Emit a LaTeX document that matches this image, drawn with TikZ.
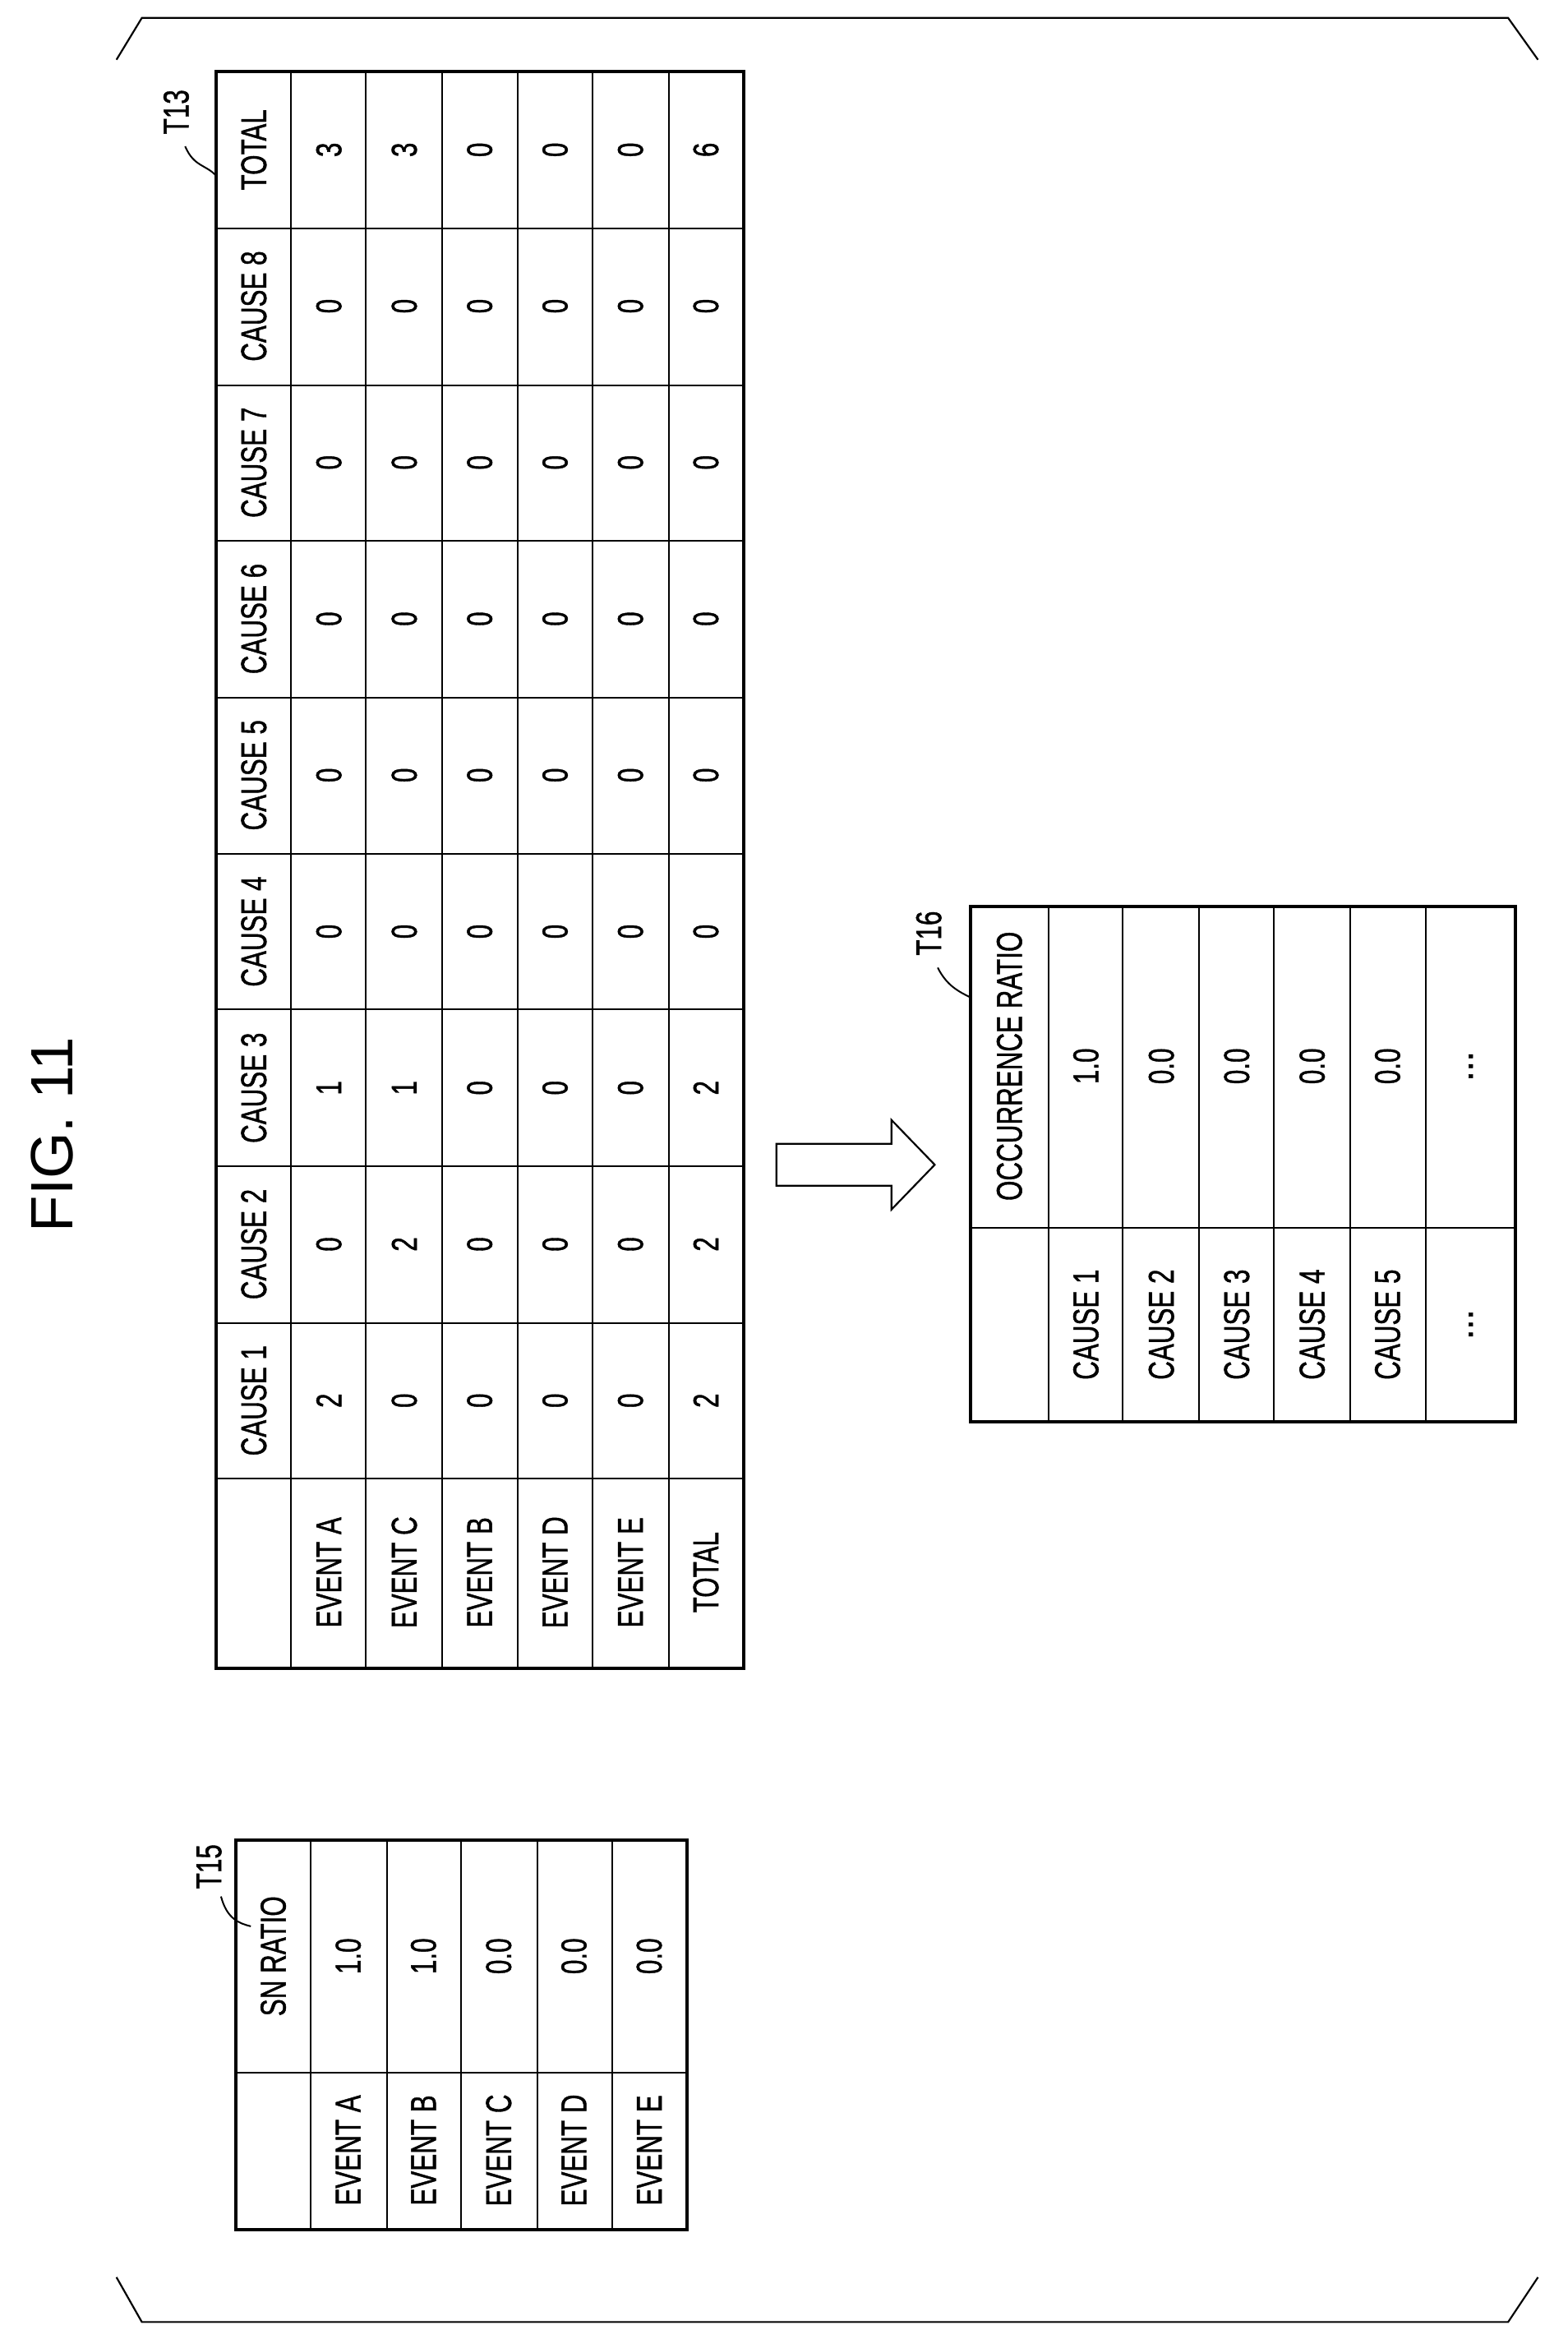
\documentclass[tikz,border=0pt]{standalone}
\usepackage{fontspec}
\setmainfont[AutoFakeBold=1.2]{Liberation Sans}
\newcommand{\nt}[1]{\scalebox{0.72}[1]{#1}}
\begin{document}
\begin{tikzpicture}[x=1pt,y=-1pt,
  cell/.style={rotate=90,inner sep=0pt,font=\fontsize{24}{24}\selectfont\bfseries},
  thick box/.style={line width=2.2pt},
  thin/.style={line width=1.1pt}]
\useasboundingbox (0,0) rectangle (1050,1557);
% frame corners
\draw[line width=1.2pt] (78,40)--(95,12)--(1010,12)--(1030,40);
\draw[line width=1.2pt] (78,1525)--(95,1555)--(1010,1555)--(1030,1525);
\node[rotate=90,font=\fontsize{40}{40}\selectfont] (title) at (35,760) {FIG. 11};
% T13
\foreach \x in {195,245,296,347,397,448} \draw[thin] (\x,48)--(\x,1117);
\foreach \y in {153,258,362,467,572,676,781,886,990} \draw[thin] (145,\y)--(498,\y);
\draw[thick box] (145,48) rectangle (498,1117);
\foreach \l [count=\i] in {TOTAL,CAUSE 8,CAUSE 7,CAUSE 6,CAUSE 5,CAUSE 4,CAUSE 3,CAUSE 2,CAUSE 1}
  \node[cell] (h\i) at (170,{48+(\i-0.5)*104.7}) {\nt{\l}};
\foreach \l [count=\j] in {EVENT A,EVENT C,EVENT B,EVENT D,EVENT E,TOTAL}
  \node[cell] (e\j) at ({195+(\j-0.5)*50.5},1053) {\nt{\l}};
\foreach \vals [count=\i] in {{3,3,0,0,0,6},{0,0,0,0,0,0},{0,0,0,0,0,0},{0,0,0,0,0,0},{0,0,0,0,0,0},{0,0,0,0,0,0},{1,1,0,0,0,2},{0,2,0,0,0,2},{2,0,0,0,0,2}}
  \foreach \v [count=\j] in \vals
    \node[cell] (v\i-\j) at ({195+(\j-0.5)*50.5},{48+(\i-0.5)*104.7}) {\nt{\v}};
\node[cell] (t13) at (118,75) {\nt{T13}};
\draw[thin] (124,98) .. controls (130,112) and (138,110) .. (145,118);
% T15
\foreach \x in {208,259,309,360,410} \draw[thin] (\x,1232)--(\x,1493);
\draw[thin] (158,1388)--(460,1388);
\draw[thick box] (158,1232) rectangle (460,1493);
\node[cell] (sn) at (183,1310) {\nt{SN RATIO}};
\foreach \l [count=\j] in {EVENT A,EVENT B,EVENT C,EVENT D,EVENT E}
  \node[cell] (se\j) at ({208+(\j-0.5)*50.4},1440) {\nt{\l}};
\foreach \l [count=\j] in {1.0,1.0,0.0,0.0,0.0}
  \node[cell] (sv\j) at ({208+(\j-0.5)*50.4},1310) {\nt{\l}};
\node[cell] (t15) at (140,1250) {\nt{T15}};
\draw[thin] (148,1270) .. controls (152,1285) and (160,1288) .. (168,1290);
% arrow
\draw[line width=1.2pt] (520,766)--(597,766)--(597,750)--(626,780)--(597,810)--(597,794)--(520,794)--cycle;
% T16
\foreach \x in {702,752,803,853,904,955} \draw[thin] (\x,607)--(\x,952);
\draw[thin] (650,822)--(1015,822);
\draw[thick box] (650,607) rectangle (1015,952);
\node[cell] (oc) at (676,714) {\nt{OCCURRENCE RATIO}};
\foreach \l [count=\j] in {CAUSE 1,CAUSE 2,CAUSE 3,CAUSE 4,CAUSE 5}
  \node[cell] (oe\j) at ({702+(\j-0.5)*50.5},887) {\nt{\l}};
\foreach \l [count=\j] in {1.0,0.0,0.0,0.0,0.0}
  \node[cell] (ov\j) at ({702+(\j-0.5)*50.5},714) {\nt{\l}};
\node[cell] (od1) at (985,887) {...};
\node[cell] (od2) at (985,714) {...};
\node[cell] (t16) at (622,625) {\nt{T16}};
\draw[thin] (628,648) .. controls (634,660) and (642,664) .. (650,668);
\end{tikzpicture}
\end{document}
